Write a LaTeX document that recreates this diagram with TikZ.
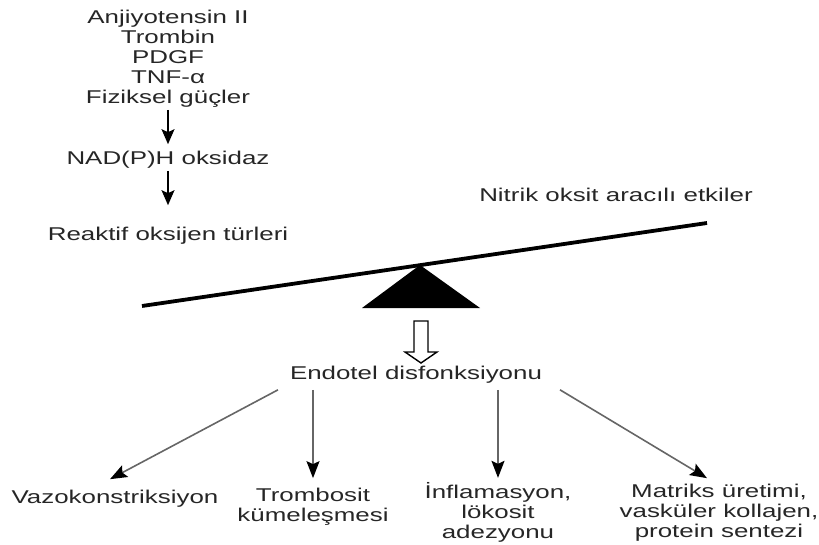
\documentclass[tikz,border=0pt]{standalone}
\usepackage{fontspec}
\setmainfont{Liberation Sans}[FakeStretch=1.4]
\usetikzlibrary{arrows.meta}

\begin{document}
\begin{tikzpicture}[
        x=1pt, y=-1pt,
        lbl/.style={text=black!85, align=center, inner sep=2pt, font=\fontsize{18.5}{20}\selectfont},
        flow_arrow/.style={-{Stealth[length=15pt, width=13pt, inset=3pt]}, line width=1.3pt},
        eff_arrow/.style={-{Stealth[length=17pt, width=13pt, inset=3pt, color=black]}, line width=1.6pt, black!60},
        beam/.style={line width=3.8pt}
    ]
        \useasboundingbox (0,0) rectangle (819,545);

        % Stimuli: NAD(P)H oksidaz gives reactive oxygen
        \node[lbl] (stim_list) at (168,59) {Anjiyotensin II\\Trombin\\PDGF\\TNF-α\\Fiziksel güçler};
        \node[lbl] (stim_nadph) at (168,160) {NAD(P)H oksidaz};
        \node[lbl] (stim_ros) at (168,236) {Reaktif oksijen türleri};
        \draw[flow_arrow, shorten >=5pt] (stim_list) -- (stim_nadph);
        \draw[flow_arrow, shorten >=20pt] (stim_nadph) -- (stim_ros);

        % Balance: ROS against NO
        \node[lbl] (bal_no) at (616,195) {Nitrik oksit aracılı etkiler};
        \coordinate (bal_left) at (142,306);
        \coordinate (bal_right) at (707,223);
        \coordinate (bal_pivot) at (420,265);
        \draw[beam] (bal_left) -- (bal_right);
        \fill (bal_pivot) -- (362,308) -- (480,308) -- cycle;

        % Hollow arrow down to endothelial dysfunction
        \node[lbl] (endo) at (416,375) {Endotel disfonksiyonu};
        \draw[line width=1.4pt, fill=white] (414,321) -- (428,321) -- (428,352) -- (437,352)
            -- (421,363) -- (405,352) -- (414,352) -- cycle;

        % Effects
        \node[lbl] (eff_vaso) at (115,499) {Vazokonstriksiyon};
        \node[lbl] (eff_tromb) at (313,507) {Trombosit\\kümeleşmesi};
        \node[lbl] (eff_infl) at (498,512) {İnflamasyon,\\lökosit\\adezyonu};
        \node[lbl] (eff_matr) at (719,513) {Matriks üretimi,\\vasküler kollajen,\\protein sentezi};
        \draw[eff_arrow] ([xshift=-138pt, yshift=-4pt]endo.south) -- ([xshift=-5pt, yshift=9pt]eff_vaso.north);
        \draw[eff_arrow] (endo.south -| eff_tromb.north) ++(0,4) -- ([yshift=8pt]eff_tromb.north);
        \draw[eff_arrow] (endo.south -| eff_infl.north) ++(0,4) -- ([yshift=2pt]eff_infl.north);
        \draw[eff_arrow] ([xshift=144pt, yshift=-4pt]endo.south) -- ([xshift=-12pt, yshift=4pt]eff_matr.north);

    \end{tikzpicture}
\end{document}
